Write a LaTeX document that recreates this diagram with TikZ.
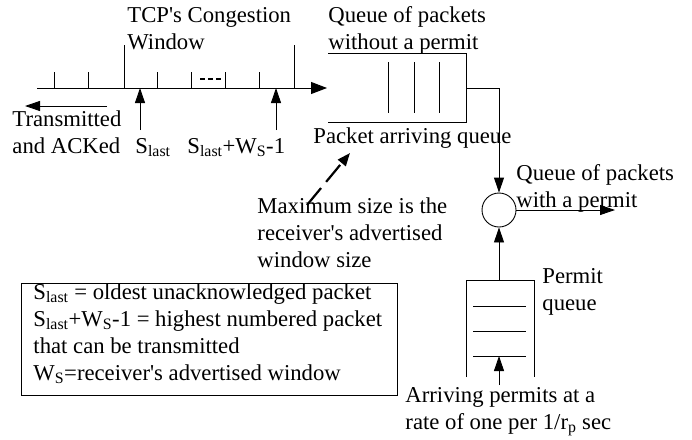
\documentclass[tikz,border=0pt]{standalone}
\usepackage{fontspec}
\setmainfont{Liberation Serif}
\usetikzlibrary{arrows.meta}
\begin{document}
\begin{tikzpicture}[x=1pt,y=-1pt, line width=0.9pt,
  lbl/.style={font=\fontsize{22.7}{27}\selectfont, inner sep=0pt, anchor=base west, align=left},
  tip/.style={-{Triangle[length=15pt,width=10pt]}},
  bigtip/.style={-{Triangle[length=16pt,width=12pt]}},
  ]
\useasboundingbox (0,0) rectangle (692,439);
% timeline
\coordinate (tl0) at (37,88);
\coordinate (tl1) at (327,88);
\draw[bigtip] (tl0) -- (tl1);
\foreach \x in {54,88,157,191,225,259} \draw (\x,88) -- (\x,72);
\foreach \x in {124,294} \draw (\x,88) -- (\x,45);
\draw[line width=2.5pt, dash pattern=on 5pt off 3pt] (200,79) -- (222,79);
\coordinate (sl) at (140,130); \coordinate (slt) at (140,88);
\draw[tip] (sl) -- (slt);
\coordinate (sw) at (276,130); \coordinate (swt) at (276,88);
\draw[tip] (sw) -- (swt);
\coordinate (tr0) at (107,106); \coordinate (tr1) at (25,106);
\draw[tip] (tr0) -- (tr1);
% labels of timeline (base = last line)
\node[lbl] (tcp) at (127,49) {TCP\textquotesingle s Congestion\\Window};
\node[lbl] (trans) at (12,153) {Transmitted\\and ACKed};
\node[lbl] (slast) at (135,153) {S\textsubscript{last}};
\node[lbl] (slastw) at (187,153) {S\textsubscript{last}+W\textsubscript{S}-1};
% packet queue
\draw (328,53) -- (466,53) -- (466,122) -- (328,122);
\foreach \x in {388,414,439} \draw (\x,62) -- (\x,113);
\node[lbl] (qnp) at (328,49) {Queue of packets\\without a permit};
\node[lbl] (paq) at (313,143) {Packet arriving queue};
% multiplexer
\coordinate (qout) at (466,88);
\node[circle, draw, minimum size=34pt, inner sep=0pt] (mux) at (499,210) {};
\draw[tip] (qout) -| (mux.north);
\coordinate (outp) at (615,210);
\draw[tip] (mux.east) -- (outp);
\node[lbl] (qwp) at (516,207) {Queue of packets\\with a permit};
% permit queue
\draw (466,377) -- (466,280) -- (534,280) -- (534,377);
\foreach \y in {306,331,356} \draw (473,\y) -- (526,\y);
\coordinate (ptop) at (499,280);
\draw[tip] (ptop) -- (mux.south);
\coordinate (pin) at (499,385); \coordinate (pint) at (499,356);
\draw[tip] (pin) -- (pint);
\node[lbl] (pq) at (542,310) {Permit\\queue};
\node[lbl] (arr) at (405,429) {Arriving permits at a\\rate of one per 1/r\textsubscript{p} sec};
% max size note
\node[lbl] (maxs) at (257,267) {Maximum size is the\\receiver\textquotesingle s advertised\\window size};
\coordinate (da0) at (307,205); \coordinate (da1) at (350,153);
\draw[line width=2.2pt, dash pattern=on 22pt off 8pt, -{Triangle[length=13pt,width=10pt]}] (da0) -- (da1);
% legend
\node[draw, anchor=north west, minimum width=376pt, minimum height=112pt, inner sep=0pt] (legend) at (21,283) {};
\node[lbl] (legtxt) at (33,380) {S\textsubscript{last} = oldest unacknowledged packet\\S\textsubscript{last}+W\textsubscript{S}-1 = highest numbered packet\\that can be transmitted\\W\textsubscript{S}=receiver\textquotesingle s advertised window};
\end{tikzpicture}
\end{document}
